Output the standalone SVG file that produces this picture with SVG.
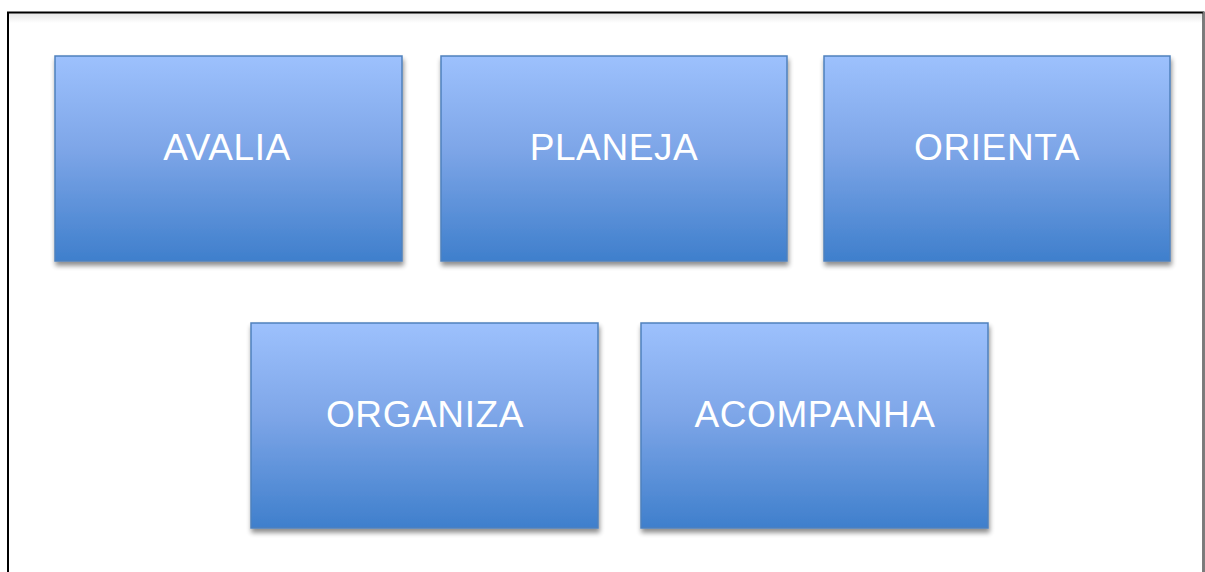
<svg xmlns="http://www.w3.org/2000/svg" width="1205" height="572" viewBox="0 0 1205 572">
  <style>
    .box { fill: url(#boxFill); stroke: #4f81bd; stroke-width: 1.5; filter: url(#drop); }
    .label { font-family: "Liberation Sans", Arial, sans-serif; font-size: 37px; letter-spacing: 0.6px; fill: #ffffff; text-anchor: middle; }
  </style>
  <defs>
    <linearGradient id="boxFill" x1="0" y1="0" x2="0" y2="1">
      <stop offset="0" stop-color="#9dc1fd"/>
      <stop offset="0.45" stop-color="#7ea6e8"/>
      <stop offset="1" stop-color="#3f7fcc"/>
    </linearGradient>
    <filter id="drop" x="-10%" y="-10%" width="125%" height="125%">
      <feGaussianBlur in="SourceAlpha" stdDeviation="2.5"/>
      <feOffset dx="1" dy="4" result="b"/>
      <feComponentTransfer><feFuncA type="linear" slope="0.45"/></feComponentTransfer>
      <feMerge><feMergeNode/><feMergeNode in="SourceGraphic"/></feMerge>
    </filter>
    <linearGradient id="frameHaze" x1="0" y1="0" x2="0" y2="1">
      <stop offset="0" stop-color="#e6e6e6"/>
      <stop offset="1" stop-color="#ffffff"/>
    </linearGradient>
  </defs>

  <rect width="1205" height="572" fill="#ffffff"/>
  <!-- page frame -->
  <rect x="9" y="13" width="1194" height="10" fill="url(#frameHaze)"/>
  <path d="M8 580 V12.5 H1203.5 V580" fill="none" stroke="#000000" stroke-width="2"/>
  <line x1="1203.5" y1="12" x2="1203.5" y2="572" stroke="#7a7a7a" stroke-width="1.5"/>

  <g id="node-avalia">
    <rect class="box" x="55" y="56" width="347" height="205"/>
    <text class="label" x="227" y="160">AVALIA</text>
  </g>
  <g id="node-planeja">
    <rect class="box" x="441" y="56" width="346" height="205"/>
    <text class="label" x="614" y="160">PLANEJA</text>
  </g>
  <g id="node-orienta">
    <rect class="box" x="824" y="56" width="346" height="205"/>
    <text class="label" x="997" y="160">ORIENTA</text>
  </g>
  <g id="node-organiza">
    <rect class="box" x="251" y="323" width="347" height="205"/>
    <text class="label" x="425" y="427">ORGANIZA</text>
  </g>
  <g id="node-acompanha">
    <rect class="box" x="641" y="323" width="347" height="205"/>
    <text class="label" x="815" y="427">ACOMPANHA</text>
  </g>
  <g id="connectors"></g>
</svg>
